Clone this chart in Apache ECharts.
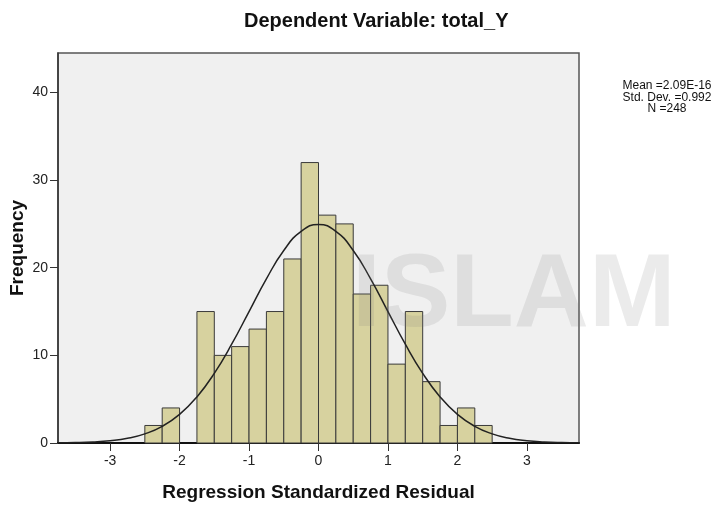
<!DOCTYPE html>
<html>
<head>
<meta charset="utf-8">
<script src="https://cdn.jsdelivr.net/npm/echarts@6/dist/echarts.min.js"></script>
<style>
  html, body { margin: 0; padding: 0; background: #fff; }
  #hist_main { width: 725px; height: 508px; }
</style>
</head>
<body>
<div id="hist_main"></div>
<script>
  // histogram bins (lower edge of each bin), bin width 0.25
  var binLow = [-2.5, -2.25, -2, -1.75, -1.5, -1.25, -1, -0.75, -0.5, -0.25,
                0, 0.25, 0.5, 0.75, 1, 1.25, 1.5, 1.75, 2, 2.25];
  var binWidth = 0.25;
  var counts = [2, 4, 0, 15, 10, 11, 13, 15, 21, 32,
                26, 25, 17, 18, 9, 15, 7, 2, 4, 2];

  // normal curve
  var curveX = [-3.75, -3.5, -3.25, -3, -2.75, -2.5, -2.25, -2, -1.75, -1.5, -1.25, -1, -0.75, -0.5, -0.25,
                0, 0.25, 0.5, 0.75, 1, 1.25, 1.5, 1.75, 2, 2.25, 2.5, 2.75, 3, 3.25, 3.5, 3.75];
  var curveY = [0.02, 0.05, 0.12, 0.26, 0.53, 1.04, 1.9, 3.27, 5.26, 7.95, 11.27, 15.0, 18.73, 21.96, 24.15,
                24.93, 24.15, 21.96, 18.73, 15.0, 11.27, 7.95, 5.26, 3.27, 1.9, 1.04, 0.53, 0.26, 0.12, 0.05, 0.02];

  var xTicks = [-3, -2, -1, 0, 1, 2, 3];
  var yTicks = [0, 10, 20, 30, 40];
  var statsText = ['Mean =2.09E-16', 'Std. Dev. =0.992', 'N =248'];

  var barData = [];
  for (var i = 0; i < binLow.length; i++) {
    if (counts[i] > 0) barData.push([binLow[i], binLow[i] + binWidth, counts[i]]);
  }
  var lineData = [];
  for (var j = 0; j < curveX.length; j++) lineData.push([curveX[j], curveY[j]]);

  var fontFam = '"Liberation Sans", Arial, sans-serif';

  var chart = echarts.init(document.getElementById('hist_main'));
  chart.setOption({
    animation: false,
    title: {
      text: 'Dependent Variable: total_Y',
      left: 244,
      top: 11,
      padding: 0,
      textStyle: { fontFamily: fontFam, fontSize: 20, fontWeight: 'bold', color: '#111' }
    },
    grid: {
      left: 58, top: 53, right: 146, bottom: 65,
      outerBoundsMode: 'none',
      containLabel: false,
      show: true,
      backgroundColor: '#F0F0F0',
      borderColor: '#555',
      borderWidth: 1.5
    },
    xAxis: {
      type: 'value',
      min: -3.75,
      max: 3.75,
      name: 'Regression Standardized Residual',
      nameLocation: 'middle',
      nameGap: 40,
      nameMoveOverlap: false,
      nameTextStyle: { fontFamily: fontFam, fontSize: 19, fontWeight: 'bold', color: '#111' },
      axisLine: { show: true, onZero: false, lineStyle: { color: '#111', width: 2 } },
      axisTick: { show: true, length: 8, customValues: xTicks, lineStyle: { color: '#333' } },
      axisLabel: { customValues: xTicks, margin: 11, fontFamily: fontFam, fontSize: 14, color: '#222' },
      splitLine: { show: false }
    },
    yAxis: {
      type: 'value',
      min: 0,
      max: 44.5,
      name: 'Frequency',
      nameLocation: 'middle',
      nameGap: 31,
      nameMoveOverlap: false,
      nameTextStyle: { fontFamily: fontFam, fontSize: 19, fontWeight: 'bold', color: '#111' },
      axisLine: { show: true, onZero: false, lineStyle: { color: '#333', width: 1.5 } },
      axisTick: { show: true, length: 8, customValues: yTicks, lineStyle: { color: '#333' } },
      axisLabel: { customValues: yTicks, margin: 10, fontFamily: fontFam, fontSize: 14, color: '#222' },
      splitLine: { show: false }
    },
    graphic: [
      {
        type: 'text',
        x: 667,
        y: 80,
        style: {
          text: statsText.join('\n'),
          align: 'center',
          verticalAlign: 'top',
          fontFamily: fontFam,
          fontSize: 12,
          lineHeight: 11.5,
          fill: '#111'
        },
        z: 10
      },
      {
        type: 'text',
        x: 352,
        y: 245,
        silent: true,
        style: {
          text: 'ISLAM',
          fontFamily: fontFam,
          fontSize: 104,
          fontWeight: 'bold',
          fill: 'rgba(120,120,120,0.15)'
        },
        z: 100
      }
    ],
    series: [
      {
        name: 'Frequency',
        type: 'custom',
        renderItem: function (params, api) {
          var p0 = api.coord([api.value(0), api.value(2)]);
          var p1 = api.coord([api.value(1), 0]);
          return {
            type: 'rect',
            shape: { x: p0[0], y: p0[1], width: p1[0] - p0[0], height: p1[1] - p0[1] },
            style: { fill: '#D7D29F', stroke: '#3a3a3a', lineWidth: 1 }
          };
        },
        encode: { x: [0, 1], y: 2 },
        data: barData,
        z: 2
      },
      {
        name: 'Normal',
        type: 'line',
        data: lineData,
        smooth: true,
        showSymbol: false,
        lineStyle: { color: '#222', width: 1.5 },
        z: 3
      }
    ]
  });
</script>
</body>
</html>
